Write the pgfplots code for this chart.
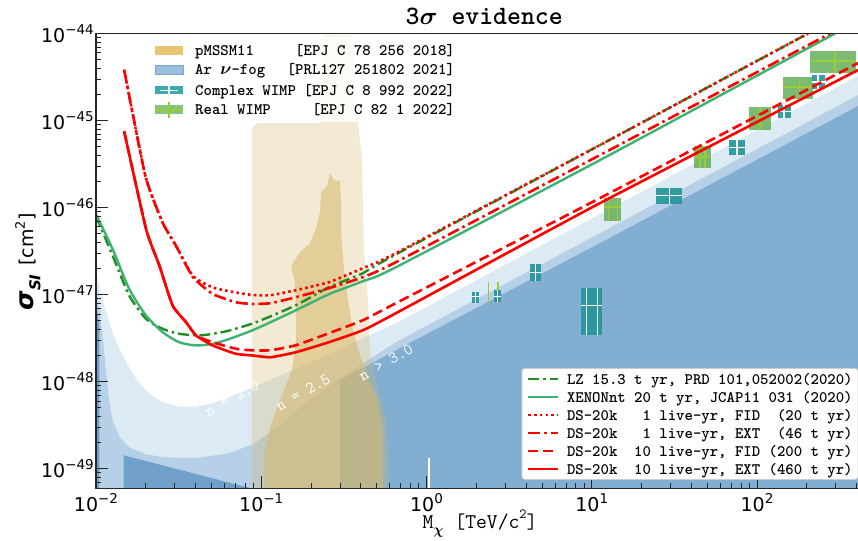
\documentclass[border=0pt]{standalone}
\usepackage{fontspec}
\usepackage{pgfplots}
\pgfplotsset{compat=1.18}
\newfontfamily\dejavu{DejaVu Sans}

\definecolor{fogA}{RGB}{220,234,244}
\definecolor{fogB}{RGB}{182,209,231}
\definecolor{fogC}{RGB}{129,174,209}
\definecolor{fogD}{RGB}{112,160,201}
\definecolor{pmssm}{RGB}{215,185,110}
\definecolor{pmssmleg}{RGB}{232,197,112}
\definecolor{fogleg}{RGB}{154,190,222}
\definecolor{foglegedge}{RGB}{125,165,205}
\definecolor{cwimp}{RGB}{38,150,155}
\definecolor{cwimpleg}{RGB}{60,170,170}
\definecolor{rwimp}{RGB}{100,175,90}
\definecolor{rwimpleg}{RGB}{132,198,128}
\definecolor{rcross}{RGB}{154,205,50}
\definecolor{lzgreen}{RGB}{34,139,34}
\definecolor{xegreen}{RGB}{60,179,113}

\newcommand\legfont{\ttfamily\bfseries\fontsize{16}{18}\selectfont}
\newcommand\tickfont{\dejavu\fontsize{19}{21}\selectfont}
\newcommand\supfont{\dejavu\fontsize{13.5}{15}\selectfont}
\newcommand\logtick{\pgfmathtruncatemacro{\tkexp}{round(\tick)}\tickfont 10\raisebox{0.45em}{\supfont\ifnum\tkexp<0 −\number-\tkexp\else\tkexp\fi}}

\pgfplotsset{
  lz/.style={lzgreen, line width=2.4pt, dash pattern=on 11pt off 4pt on 2.5pt off 4pt},
  xe/.style={xegreen, line width=2.4pt},
  dsfida/.style={red, line width=2.6pt, dash pattern=on 2.6pt off 3.2pt},
  dsexta/.style={red, line width=2.6pt, dash pattern=on 12pt off 4pt on 2.6pt off 4pt},
  dsfidb/.style={red, line width=2.6pt, dash pattern=on 10pt off 5pt},
  dsextb/.style={red, line width=2.6pt},
  cbox/.style={fill=cwimp, fill opacity=0.92, draw=none, forget plot},
  ccross/.style={white, line width=1.3pt, forget plot},
  rbox/.style={fill=rwimp, fill opacity=0.85, draw=none, forget plot},
  rcr/.style={rcross, line width=1.6pt, forget plot},
}

\begin{document}
\begin{tikzpicture}
\begin{axis}[
  name=ax, at={(0pt,0pt)}, anchor=south west,
  scale only axis, width=776.5pt, height=454.5pt,
  xmode=log, ymode=log, log basis x=10, log basis y=10,
  xmin=0.01, xmax=500, ymin=6e-50, ymax=1e-44,
  axis on top,
  axis line style={line width=1.1pt, black!85},
  tick align=inside, xtick pos=left, ytick pos=left,
  major tick length=12.5pt, minor tick length=5pt,
  every tick/.append style={line width=0.9pt, black!85},
  xticklabel={\logtick}, yticklabel={\logtick},
  every tick label/.append style={inner sep=2pt},
  xticklabel style={yshift=-3pt},
  legend style={at={(0.982,0.018)}, anchor=south east,
    draw=black!20, line width=0.8pt, rounded corners=3pt, fill=white,
    font=\legfont, inner xsep=5pt, inner ysep=3pt, row sep=2.9pt,
    nodes={inner sep=0.5pt},
    /tikz/every odd column/.append style={column sep=7pt}},
  legend cell align=left,
  legend image code/.code={\draw[#1] (0pt,0pt) -- (30pt,0pt);},
]

% argon neutrino fog, lightest to darkest
\addplot[fill=fogA, draw=none, forget plot] coordinates {
  (0.009,1.813e-47) (0.01,1.813e-47) (0.01118,7.57e-48) (0.01262,3.61e-48)
  (0.01416,2.183e-48) (0.01584,1.468e-48) (0.0177,1.04e-48) (0.02008,7.99e-49)
  (0.02244,6.63e-49) (0.02543,5.81e-49) (0.03179,5.16e-49) (0.04028,5.16e-49)
  (0.05105,5.66e-49) (0.0638,6.63e-49) (0.08915,8.65e-49) (0.2267,1.863e-48)
  (0.6537,4.70e-48) (11.21,8.42e-47) (500,3.99e-45) (500,1e-50) (0.009,1e-50)};
\addplot[fill=fogB, draw=none, forget plot] coordinates {
  (0.009,1.219e-47) (0.01,1.219e-47) (0.01057,6.29e-48) (0.01102,3.0e-48)
  (0.01149,1.356e-48) (0.01199,6.13e-49) (0.01268,3.42e-49) (0.01397,2.30e-49)
  (0.01584,1.766e-49) (0.02008,1.468e-49) (0.02543,1.356e-49) (0.04028,1.32e-49)
  (0.0638,1.508e-49) (0.08915,1.912e-49) (0.1299,3.162e-49) (0.1789,5.37e-49)
  (0.2997,1.097e-48) (0.6537,2.844e-48) (11.21,5.09e-47) (500,2.41e-45)
  (500,1e-50) (0.009,1e-50)};
\addplot[fill=fogC, draw=none, forget plot] coordinates {
  (0.2997,1e-50) (0.2997,1.04e-48) (0.6537,2.30e-48) (11.21,3.91e-47)
  (500,1.80e-45) (500,1e-50)};
\addplot[fill=fogD, draw=none, forget plot] coordinates {
  (0.0147,1e-50) (0.0147,1.429e-49) (0.0855,6e-50) (0.0855,1e-50)};
\addplot[fill=fogD, draw=none, forget plot] coordinates {
  (0.009,7.38e-48) (0.01,7.38e-48) (0.0105,4.5e-48) (0.0105,1e-50) (0.009,1e-50)};

% pMSSM11 regions
\addplot[fill=pmssm, fill opacity=0.3, draw=none, forget plot] coordinates {
  (0.0879,1e-50) (0.0879,8.2e-46) (0.0943,9.36e-46) (0.2267,9.36e-46)
  (0.2331,2.92e-45) (0.2431,9.61e-45) (0.3541,9.61e-45) (0.3692,2.92e-45)
  (0.385,9.36e-46) (0.4072,3.516e-46) (0.4186,3.247e-47) (0.4426,8.65e-48)
  (0.455,2.3e-48) (0.5087,7.99e-49) (0.5686,3.61e-49) (0.5848,1.252e-49)
  (0.5608,1e-50)};
\addplot[fill=pmssm, fill opacity=0.57, draw=none, forget plot] coordinates {
  (0.2606,2.492e-46) (0.2499,1.766e-46) (0.2299,1.508e-46) (0.2267,8.88e-47)
  (0.2145,5.81e-47) (0.1972,3.91e-47) (0.1716,3.08e-47) (0.1514,2.126e-47)
  (0.16,1.356e-47) (0.1623,6.63e-48) (0.1623,3.0e-48) (0.1535,1.356e-48)
  (0.1299,6.13e-49) (0.1141,3.162e-49) (0.1039,1.429e-49) (0.1039,1e-50)
  (0.5454,1e-50) (0.5454,2.77e-49) (0.5087,6.13e-49) (0.4426,1.097e-48)
  (0.3904,2.183e-48) (0.3592,3.91e-48) (0.335,8.65e-48) (0.3168,1.912e-47)
  (0.3039,5.51e-47) (0.3039,1.219e-46) (0.2997,2.016e-46) (0.2756,2.07e-46)};

% real WIMP boxes
\addplot[rcr] coordinates {(2.366,7.92e-48) (2.366,1.403e-47)};
\addplot[rcr] coordinates {(2.697,7.92e-48) (2.697,1.403e-47)};
\addplot[rbox] coordinates {(11.86,7.05e-47) (14.97,7.05e-47) (14.97,1.276e-46) (11.86,1.276e-46)};
\addplot[rcr] coordinates {(12.60,7.05e-47) (12.60,1.276e-46)};
\addplot[rcr] coordinates {(14.28,7.05e-47) (14.28,1.276e-46)};
\addplot[rcr] coordinates {(11.86,1.021e-46) (14.97,1.021e-46)};
\addplot[rbox] coordinates {(41.74,2.822e-46) (52.46,2.822e-46) (52.46,5.13e-46) (41.74,5.13e-46)};
\addplot[rcr] coordinates {(45.20,2.822e-46) (45.20,5.13e-46)};
\addplot[rcr] coordinates {(48.46,2.822e-46) (48.46,5.13e-46)};
\addplot[rcr] coordinates {(41.74,3.836e-46) (52.46,3.836e-46)};
\addplot[rbox] coordinates {(89.83,7.78e-46) (121.0,7.78e-46) (121.0,1.418e-45) (89.83,1.418e-45)};
\addplot[rcr] coordinates {(104.3,7.78e-46) (104.3,1.418e-45)};
\addplot[rcr] coordinates {(89.83,1.088e-45) (121.0,1.088e-45)};
\addplot[rbox] coordinates {(143.1,1.753e-45) (219.1,1.753e-45) (219.1,3.187e-45) (143.1,3.187e-45)};
\addplot[rcr] coordinates {(180.3,1.753e-45) (180.3,3.187e-45)};
\addplot[rcr] coordinates {(143.1,2.446e-45) (219.1,2.446e-45)};
\addplot[rbox] coordinates {(209.3,3.488e-45) (395.7,3.488e-45) (395.7,6.34e-45) (209.3,6.34e-45)};
\addplot[rcr] coordinates {(296.5,3.488e-45) (296.5,6.34e-45)};
\addplot[rcr] coordinates {(209.3,4.868e-45) (395.7,4.868e-45)};

% complex WIMP boxes
\addplot[cbox] coordinates {(1.877,8.05e-48) (2.086,8.05e-48) (2.086,1.077e-47) (1.877,1.077e-47)};
\addplot[ccross] coordinates {(1.979,8.05e-48) (1.979,1.077e-47)};
\addplot[ccross] coordinates {(1.877,9.48e-48) (2.086,9.48e-48)};
\addplot[cbox] coordinates {(2.572,8.26e-48) (2.812,8.26e-48) (2.812,1.126e-47) (2.572,1.126e-47)};
\addplot[ccross] coordinates {(2.690,8.26e-48) (2.690,1.126e-47)};
\addplot[ccross] coordinates {(2.572,9.61e-48) (2.812,9.61e-48)};
\addplot[cbox] coordinates {(4.229,1.441e-47) (4.911,1.441e-47) (4.911,2.224e-47) (4.229,2.224e-47)};
\addplot[ccross] coordinates {(4.554,1.441e-47) (4.554,2.224e-47)};
\addplot[ccross] coordinates {(4.229,1.813e-47) (4.911,1.813e-47)};
\addplot[cbox] coordinates {(8.61,3.42e-48) (11.49,3.42e-48) (11.49,1.178e-47) (8.61,1.178e-47)};
\addplot[ccross] coordinates {(9.32,3.42e-48) (9.32,1.178e-47)};
\addplot[ccross] coordinates {(10.80,3.42e-48) (10.80,1.178e-47)};
\addplot[ccross] coordinates {(8.61,7.57e-48) (11.49,7.57e-48)};
\addplot[cbox] coordinates {(24.48,1.097e-46) (35.03,1.097e-46) (35.03,1.662e-46) (24.48,1.662e-46)};
\addplot[ccross] coordinates {(29.47,1.097e-46) (29.47,1.662e-46)};
\addplot[ccross] coordinates {(24.48,1.366e-46) (35.03,1.366e-46)};
\addplot[cbox] coordinates {(67.71,4.012e-46) (84.61,4.012e-46) (84.61,5.97e-46) (67.71,5.97e-46)};
\addplot[ccross] coordinates {(75.68,4.012e-46) (75.68,5.97e-46)};
\addplot[ccross] coordinates {(67.71,4.894e-46) (84.61,4.894e-46)};
\addplot[cbox] coordinates {(133.5,1.060e-45) (159.9,1.060e-45) (159.9,1.508e-45) (133.5,1.508e-45)};
\addplot[ccross] coordinates {(145.7,1.060e-45) (145.7,1.508e-45)};
\addplot[ccross] coordinates {(133.5,1.262e-45) (159.9,1.262e-45)};
\addplot[cbox] coordinates {(214.3,2.284e-45) (257.9,2.284e-45) (257.9,3.334e-45) (214.3,3.334e-45)};
\addplot[ccross] coordinates {(233.9,2.284e-45) (233.9,3.334e-45)};
\addplot[ccross] coordinates {(214.3,2.77e-45) (257.9,2.77e-45)};
\addplot[ccross] coordinates {(1.035,1e-50) (1.035,1.32e-49)};

% sensitivity curves
\addplot[lz, smooth, tension=0.4] coordinates {
  (0.0100,8.0e-47) (0.01262,2.8e-47) (0.0159,9.75e-48) (0.0201,5.26e-48)
  (0.0253,4.05e-48) (0.0319,3.55e-48) (0.0422,3.40e-48) (0.0508,3.55e-48)
  (0.0641,3.87e-48) (0.0929,4.82e-48) (0.1623,7.57e-48) (0.2570,1.219e-47)
  (0.4127,1.766e-47) (0.5932,2.627e-47) (11.21,5.23e-46) (203.5,1e-44)};
\addlegendentry{\strut LZ 15.3 t yr, PRD 101,052002(2020)}
\addplot[xe, smooth, tension=0.4] coordinates {
  (0.0100,8.4e-47) (0.01262,3.33e-47) (0.0159,1.16e-47) (0.0201,5.75e-48)
  (0.0253,3.71e-48) (0.0319,2.84e-48) (0.0403,2.61e-48) (0.0508,2.72e-48)
  (0.0641,3.10e-48) (0.0929,4.05e-48) (0.1623,6.63e-48) (0.2570,1.013e-47)
  (0.4127,1.429e-47) (0.6537,2.07e-47) (11.21,3.516e-46) (296.5,1e-44)};
\addlegendentry{\strut XENONnt 20 t yr, JCAP11 031 (2020)}
\addplot[dsfida, smooth, tension=0.3] coordinates {
  (0.0148,3.84e-45) (0.0199,2.31e-46) (0.0253,6.73e-47) (0.0305,3.64e-47)
  (0.0385,1.65e-47) (0.0508,1.21e-47) (0.0703,1.06e-47) (0.0887,9.9e-48)
  (0.1141,9.87e-48) (0.1623,1.126e-47) (0.2570,1.392e-47) (0.4127,2.016e-47)
  (0.6537,3.0e-47) (11.21,5.23e-46) (203.5,1e-44)};
\addlegendentry{\strut DS-20k\ \ \ 1 live-yr, FID\ \ (20 t yr)}
\addplot[dsexta, smooth, tension=0.3] coordinates {
  (0.0148,3.84e-45) (0.0199,2.31e-46) (0.0253,6.73e-47) (0.0305,3.64e-47)
  (0.0385,1.6e-47) (0.0508,1.02e-47) (0.0703,8.17e-48) (0.0887,7.82e-48)
  (0.1141,7.99e-48) (0.1623,9.36e-48) (0.2570,1.188e-47) (0.4127,1.589e-47)
  (0.6537,2.363e-47) (11.21,4.012e-46) (276.6,1e-44)};
\addlegendentry{\strut DS-20k\ \ \ 1 live-yr, EXT\ \ (46 t yr)}
\addplot[dsfidb, smooth, tension=0.3] coordinates {
  (0.0148,7.55e-46) (0.0201,5.65e-47) (0.0242,2.15e-47) (0.0291,7.48e-48)
  (0.0351,4.82e-48) (0.0403,3.40e-48) (0.0508,2.84e-48) (0.0703,2.39e-48)
  (0.0887,2.29e-48) (0.1141,2.30e-48) (0.1623,2.627e-48) (0.2570,3.61e-48)
  (0.4127,5.09e-48) (0.6537,7.99e-48) (11.21,1.286e-46) (408.5,4.58e-45)
  (500,5.6e-45)};
\addlegendentry{\strut DS-20k\ \ 10 live-yr, FID (200 t yr)}
\addplot[dsextb, smooth, tension=0.3] coordinates {
  (0.0148,7.55e-46) (0.0201,5.65e-47) (0.0242,2.15e-47) (0.0291,7.48e-48)
  (0.0351,4.82e-48) (0.0403,3.40e-48) (0.0508,2.61e-48) (0.0703,2.09e-48)
  (0.0887,2.0e-48) (0.1141,1.912e-48) (0.1623,2.183e-48) (0.2570,2.844e-48)
  (0.4127,3.91e-48) (0.6537,6.13e-48) (11.21,1.126e-46) (408.5,3.81e-45)
  (500,4.66e-45)};
\addlegendentry{\strut DS-20k\ \ 10 live-yr, EXT (460 t yr)}

% contour labels of the fog
\node[rotate=29.5, text=white, font=\ttfamily\fontsize{16.5}{18}\selectfont] at (axis cs:0.0665,6.46e-49) {n = 2.0};
\node[rotate=29.5, text=white, font=\ttfamily\fontsize{16.5}{18}\selectfont] at (axis cs:0.1789,7.57e-49) {n = 2.5};
\node[rotate=29.5, text=white, font=\ttfamily\fontsize{16.5}{18}\selectfont] at (axis cs:0.5686,1.675e-48) {n > 3.0};
\end{axis}

% title and axis labels
\node[anchor=base, font=\ttfamily\bfseries\fontsize{26.5}{29}\selectfont] at (388.25pt,463pt) {3{\boldmath$\sigma$} evidence};
\node[anchor=base, font=\ttfamily\fontsize{21}{24}\selectfont] at (384pt,-40pt)
  {M\raisebox{-0.3em}{\fontsize{15}{17}\selectfont\boldmath$\chi$}\ [TeV/c\raisebox{0.45em}{\fontsize{14}{16}\selectfont 2}]};
\node[rotate=90, anchor=center] at (-68pt,226pt)
  {{\dejavu\bfseries\itshape\fontsize{25}{28}\selectfont σ\raisebox{-0.28em}{\fontsize{15}{17}\selectfont SI}}\hspace{0.9em}{\dejavu\fontsize{19}{21}\selectfont [cm\raisebox{0.45em}{\fontsize{13}{15}\selectfont 2}]}};

% reference-model legend
\fill[white, fill opacity=0.8, rounded corners=3pt] (49pt,366pt) rectangle (374pt,452pt);
\fill[pmssmleg] (59pt,433pt) rectangle (87pt,442pt);
\filldraw[fill=fogleg, draw=foglegedge, line width=0.6pt] (59pt,413.5pt) rectangle (87pt,422.5pt);
\fill[cwimpleg] (59pt,393.5pt) rectangle (87pt,401.5pt);
\draw[white, line width=1.3pt] (73pt,393.5pt) -- (73pt,401.5pt) (64pt,397.5pt) -- (82pt,397.5pt);
\fill[rwimpleg] (59pt,373.5pt) rectangle (87pt,382.5pt);
\draw[rcross, line width=1.6pt] (73pt,370pt) -- (73pt,386pt) (59pt,378pt) -- (87pt,378pt);
\begin{scope}[every node/.style={font=\legfont, inner sep=0pt}]
\node[anchor=base west] at (99pt,432.5pt) {pMSSM11};
\node[anchor=base east] at (359pt,432.5pt) {[EPJ C 78 256 2018]};
\node[anchor=base west] at (99pt,413pt) {Ar {\boldmath$\nu$}-fog};
\node[anchor=base east] at (359pt,413pt) {[PRL127 251802 2021]};
\node[anchor=base west] at (99pt,392.5pt) {Complex WIMP};
\node[anchor=base east] at (359pt,392.5pt) {[EPJ C 8 992 2022]};
\node[anchor=base west] at (99pt,373pt) {Real WIMP};
\node[anchor=base east] at (359pt,373pt) {[EPJ C 82 1 2022]};
\end{scope}

\pgfresetboundingbox
\useasboundingbox (-96pt,-52pt) rectangle (762pt,488pt);
\end{tikzpicture}
\end{document}
